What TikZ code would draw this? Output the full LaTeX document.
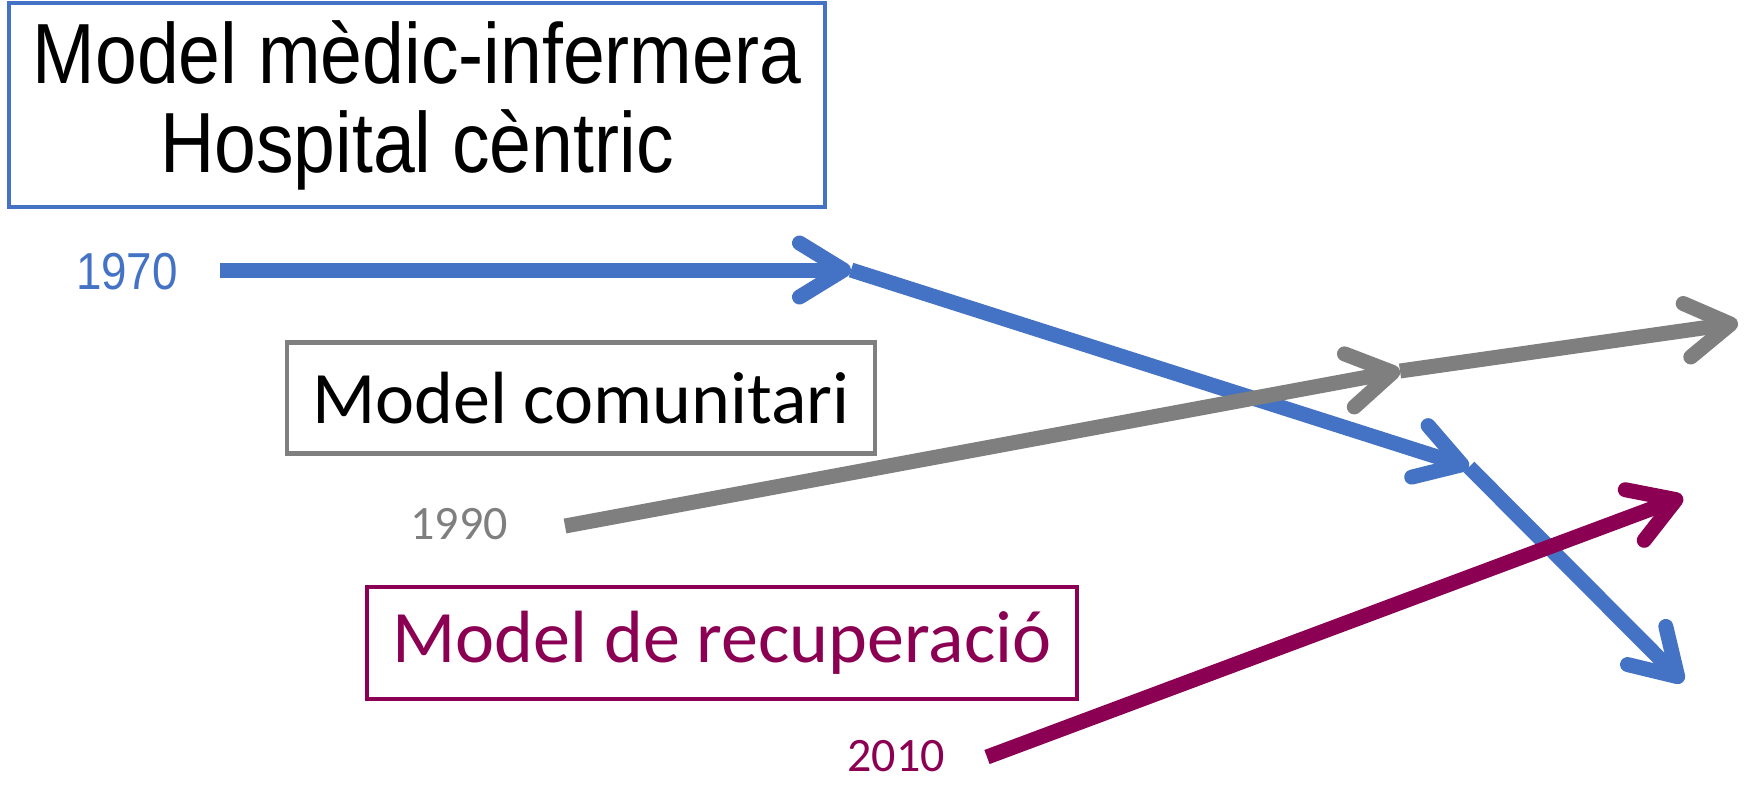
\documentclass[tikz,border=0pt]{standalone}
\usepackage{fontspec}
\usetikzlibrary{arrows.meta}
\newfontfamily\arialn[FakeStretch=0.88]{Liberation Sans}
\newfontfamily\calib{Carlito}
\definecolor{modelblue}{RGB}{68,114,196}
\definecolor{modelgray}{RGB}{127,127,127}
\definecolor{modelred}{RGB}{139,0,82}
\tikzset{>={Straight Barb[length=22pt,width=27pt,round]}}
\tikzset{modelbox/.style={draw,line width=2.4pt,inner sep=0pt,align=center},
         track/.style={->,line width=7.5pt}}

\begin{document}
\begin{tikzpicture}[x=0.5pt,y=-0.5pt]
        \useasboundingbox (0,0) rectangle (1745,784);
        \node[modelbox,draw=modelblue,minimum width=408pt,minimum height=102pt,font=\arialn\fontsize{42.7}{44.5}\selectfont] (hosp) at (417,105) {Model mèdic-infermera\\Hospital cèntric};
        \node[modelbox,draw=modelgray,minimum width=294pt,minimum height=55.5pt,font=\calib\fontsize{37}{40}\selectfont] (com) at (581,398) {Model comunitari};
        \node[modelbox,draw=modelred,text=modelred,minimum width=355pt,minimum height=56pt,font=\calib\fontsize{37}{40}\selectfont] (rec) at (722,643) {Model de recuperació};
        \node[text=modelblue,font=\arialn\fontsize{26}{28}\selectfont] (y1970) at (127,272) {1970};
        \node[text=modelgray,font=\calib\fontsize{24}{26}\selectfont] (y1990) at (459,524) {1990};
        \node[text=modelred,font=\calib\fontsize{24}{26}\selectfont] (y2010) at (896,756) {2010};
        % bends of the three tracks
        \coordinate (b0) at (220,270);
        \coordinate (b1) at (851,270);
        \coordinate (b2) at (1469,467);
        \coordinate (b3) at (1683,682);
        \coordinate (g0) at (565,526);
        \coordinate (g1) at (1400,371);
        \coordinate (g2) at (1738,323);
        \coordinate (m0) at (987,757);
        \coordinate (m1) at (1683,497);
        \draw[track,modelblue] (b0) -- (b1);
        \draw[track,modelblue] (b1) -- (b2);
        \draw[track,modelblue] (b2) -- (b3);
        \draw[track,modelgray] (g0) -- (g1);
        \draw[track,modelgray] (g1) -- (g2);
        \draw[track,modelred] (m0) -- (m1);
\end{tikzpicture}
\end{document}
